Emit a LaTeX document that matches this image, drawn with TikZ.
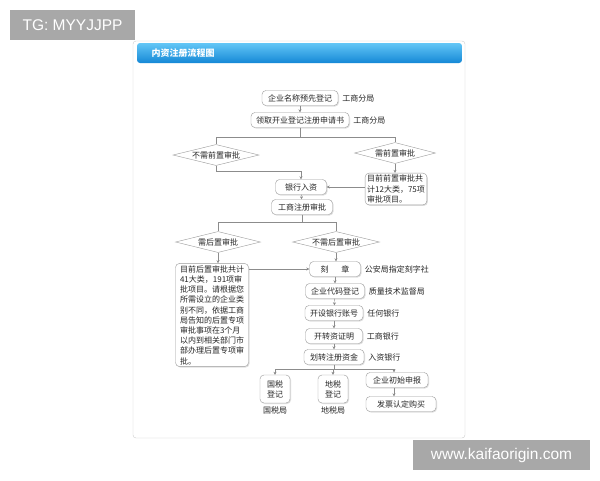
\documentclass[tikz,border=0pt]{standalone}
\usepackage{fontspec}
\setmainfont{Liberation Sans}
\newfontfamily\cjk{Noto Sans CJK SC}
\usetikzlibrary{shapes.geometric,positioning,arrows.meta,shadows}

\definecolor{linegray}{HTML}{8C8C8C}
\definecolor{boxgray}{HTML}{9A9A9A}
\definecolor{txtgray}{HTML}{262626}
\definecolor{bartop}{HTML}{63C6F6}
\definecolor{barbot}{HTML}{1488D6}
\definecolor{markgray}{HTML}{A8A8A8}

\tikzset{
  stepbox/.style={rectangle, rounded corners=4pt, draw=boxgray, fill=white, text=txtgray,
    font=\cjk\fontsize{8}{10.2}\selectfont, inner xsep=5pt, inner ysep=0pt, minimum height=15pt,
    drop shadow={shadow xshift=1pt, shadow yshift=-1pt, fill=black!25}},
  notebox/.style={stepbox, align=left, inner xsep=3pt, inner ysep=2pt},
  choice/.style={diamond, aspect=4.2, draw=boxgray, fill=white, text=txtgray,
    font=\cjk\fontsize{8}{10}\selectfont, inner sep=0pt, minimum width=84pt, minimum height=21pt},
  side/.style={text=txtgray, font=\cjk\fontsize{8}{10}\selectfont, inner sep=0pt},
  link/.style={draw=linegray, thin},
  flow/.style={link, -{Stealth[length=3pt,width=3pt]}},
  wmark/.style={fill=markgray, text=white, font=\fontsize{15.5}{18}\selectfont, inner sep=0pt}
}

\newcommand{\stn}{\node[stepbox]}
\newcommand{\ntn}{\node[notebox]}
\newcommand{\chn}{\node[choice]}
\newcommand{\sdn}{\node[side]}

\begin{document}
\begin{tikzpicture}[x=1pt, y=-1pt]
  \useasboundingbox (0,0) rectangle (600,480);

  % panel and title bar
  \draw[draw=black!20, fill=white, rounded corners=3pt] (133,41) rectangle (465,438);
  \shade[top color=bartop, bottom color=barbot, rounded corners=3pt] (137,43) rectangle (462,63);
  \node[anchor=west, text=white, font=\cjk\bfseries\fontsize{9}{10}\selectfont] (title) at (148,53) {内资注册流程图};

  % registration steps
  \stn[minimum width=76pt] (name) at (300,98) {企业名称预先登记};
  \sdn[right=4pt of name] (nameby) {工商分局};
  \stn[minimum width=96pt] (apply) at (300,120) {领取开业登记注册申请书};
  \sdn[right=4pt of apply] (applyby) {工商分局};
  \coordinate (split1) at (300,137);

  \chn[minimum width=86pt] (nopre) at (216,155) {不需前置审批};
  \chn[minimum width=81pt] (pre) at (395,153) {需前置审批};
  \ntn[minimum width=59pt, inner xsep=2pt] (prenote) at (396,189) {目前前置审批共\\计12大类，75项\\审批项目。};

  \coordinate (join1) at (301,171);
  \stn[minimum width=51pt] (bank) at (301,187) {银行入资};
  \stn[minimum width=61pt] (check) at (302,207) {工商注册审批};
  \coordinate (split2) at (302,222);

  \chn[minimum width=85pt] (post) at (218,242) {需后置审批};
  \chn[minimum width=87pt] (nopost) at (336,242) {不需后置审批};
  \ntn[minimum width=73pt] (postnote) at (212,315) {目前后置审批共计\\41大类，191项审\\批项目。请根据您\\所需设立的企业类\\别不同，依据工商\\局告知的后置专项\\审批事项在3个月\\以内到相关部门市\\部办理后置专项审\\批。};

  \stn[minimum width=51pt] (seal) at (335,269) {刻\hspace{1.6em}章};
  \sdn[right=4pt of seal] (sealby) {公安局指定刻字社};
  \stn[minimum width=59pt] (code) at (335,291) {企业代码登记};
  \sdn[right=4pt of code] (codeby) {质量技术监督局};
  \stn[minimum width=57pt] (account) at (334,313) {开设银行账号};
  \sdn[right=4pt of account] (accountby) {任何银行};
  \stn[minimum width=57pt] (proof) at (334,336) {开转资证明};
  \sdn[right=4pt of proof] (proofby) {工商银行};
  \stn[minimum width=60pt] (fund) at (334,357) {划转注册资金};
  \sdn[right=4pt of fund] (fundby) {入资银行};
  \coordinate (split3) at (334,369);

  \stn[align=center, minimum width=30pt, minimum height=28pt] (state) at (275,389) {国税\\登记};
  \sdn[below=3pt of state] (stateby) {国税局};
  \stn[align=center, minimum width=30pt, minimum height=28pt] (local) at (333,389) {地税\\登记};
  \sdn[below=3pt of local] (localby) {地税局};
  \stn[minimum width=62pt] (init) at (397,380) {企业初始申报};
  \stn[minimum width=70pt] (invoice) at (401,404) {发票认定购买};

  % connectors
  \draw[flow] (name) -- (apply);
  \draw[link] (apply) -- (split1);
  \draw[link] (split1) -| (nopre.north);
  \draw[link] (split1) -| (pre.north);
  \draw[flow] (pre.south) -- (pre.south |- prenote.north);
  \draw[link] (nopre.south) |- (join1);
  \draw[flow] (join1) -- (bank);
  \draw[flow] (prenote.west |- bank) -- (bank);
  \draw[flow] (bank) -- (check);
  \draw[link] (check) -- (split2);
  \draw[link] (split2) -| (post.north);
  \draw[link] (split2) -| (nopost.north);
  \draw[flow] (post.south) -- (post.south |- postnote.north);
  \draw[flow] (nopost.south) -- (nopost.south |- seal.north);
  \draw[flow] (postnote.east |- seal) -- (seal);
  \draw[flow] (seal) -- (code);
  \draw[flow] (code) -- (account);
  \draw[flow] (account) -- (proof);
  \draw[flow] (proof) -- (fund);
  \draw[link] (fund) -- (split3);
  \draw[flow] (split3) -| (state.north);
  \draw[flow] (split3) -| (local.north);
  \draw[flow] (split3) -| ([xshift=-3pt]init.north);
  \draw[flow] ([xshift=-3pt]init.south) -- ([xshift=-3pt]init.south |- invoice.north);

  % marks
  \node[wmark, minimum width=125pt, minimum height=30pt] (tag) at (72.5,25) {TG: MYYJJPP};
  \node[wmark, minimum width=177pt, minimum height=30pt] (site) at (501.5,455) {www.kaifaorigin.com};
\end{tikzpicture}
\end{document}
